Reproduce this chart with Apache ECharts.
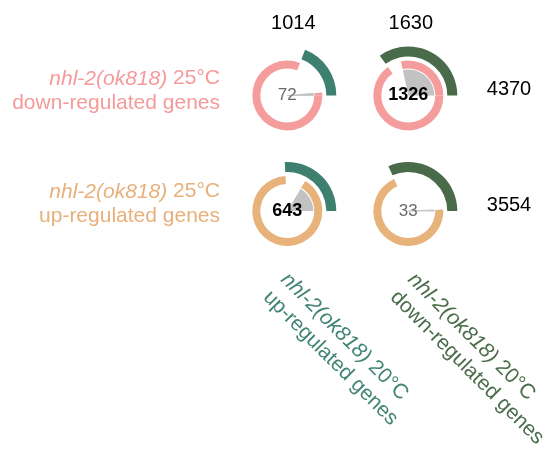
<!DOCTYPE html>
<html><head><meta charset="utf-8">
<script src="https://cdn.jsdelivr.net/npm/echarts@6/dist/echarts.min.js"></script>
<style>html,body{margin:0;padding:0;background:#fff}#c{width:548px;height:449px}</style>
</head><body><div id="c"></div>
<script>
// ---- data ----
const rowLabelsItalic = ['nhl-2(ok818)', 'nhl-2(ok818)'];
const rowLabelsTemp = ['25°C', '25°C'];
const rowLabelsDir = ['down-regulated genes', 'up-regulated genes'];
const colLabelsItalic = ['nhl-2(ok818)', 'nhl-2(ok818)'];
const colLabelsTemp = ['20°C', '20°C'];
const colLabelsDir = ['up-regulated genes', 'down-regulated genes'];
const rowTotals = [4370, 3554];
const colTotals = [1014, 1630];
const overlaps = [[72, 1326], [643, 33]];
const overlapSignificant = [[false, true], [true, false]];

// ---- layout & style ----
const FONT = '"Liberation Sans", Arial, Helvetica, sans-serif';
const rowColors = ['#f59c9c', '#e8b27b'];
const colColors = ['#3e8070', '#4a6b4a'];
const rowTextColors = ['#f59a9a', '#e8b07a'];
const colTextColors = ['#428574', '#4b6d4b'];
const colX = [287.3, 408.3];
const rowY = [95.5, 211];
const topLabelX = [293.3, 410.8];
const topLabelY = 23.8;
const rightLabelX = 509;
const rightLabelY = [89.5, 205.7];
const rowLabelRight = 220;
const rowLabelY = [91.2, 204.2];
const colLabelAnchor = [[293, 267.6], [420, 267.6]];
const T = 'rgba(0,0,0,0)';

const series = [];
const common = {
  type: 'pie', startAngle: 0, clockwise: false, silent: true, animation: false,
  minAngle: 0, padAngle: 0, avoidLabelOverlap: false,
  label: { show: false }, labelLine: { show: false },
  emphasis: { disabled: true, scale: false },
  itemStyle: { borderWidth: 0, borderRadius: 0 }
};
for (let r = 0; r < 2; r++) {
  for (let c = 0; c < 2; c++) {
    const A = rowTotals[r], B = colTotals[c], O = overlaps[r][c];
    const center = [colX[c], rowY[r]];
    series.push(Object.assign({}, common, {
      center, radius: [27, 35],
      data: [
        { value: O, itemStyle: { color: rowColors[r] } },
        { value: B - O, itemStyle: { color: T } },
        { value: A - O, itemStyle: { color: rowColors[r] } }
      ]
    }));
    series.push(Object.assign({}, common, {
      center, radius: [39, 49],
      data: [
        { value: B, itemStyle: { color: colColors[c] } },
        { value: A - O, itemStyle: { color: T } }
      ]
    }));
    const sig = overlapSignificant[r][c];
    series.push(Object.assign({}, common, {
      center, radius: [0, 26], z: 3,
      data: [
        { value: O, itemStyle: { color: '#c2c2c2', borderColor: '#c2c2c2', borderWidth: sig ? 0 : 0.8 },
          label: { show: true, position: 'center', formatter: String(O),
            fontFamily: FONT, fontSize: sig ? 18 : 17, fontWeight: sig ? 'bold' : 'normal',
            color: sig ? '#000' : '#6a6a6a' } },
        { value: (A + B - O) - O, itemStyle: { color: T } }
      ]
    }));
  }
}

const graphic = [];
for (let c = 0; c < 2; c++) {
  graphic.push({ type: 'text', x: topLabelX[c], y: topLabelY, silent: true,
    style: { text: String(colTotals[c]), font: '20px ' + FONT, fill: '#000',
      align: 'center', verticalAlign: 'middle', textAlign: 'center', textVerticalAlign: 'middle' } });
}
for (let r = 0; r < 2; r++) {
  graphic.push({ type: 'text', x: rightLabelX, y: rightLabelY[r], silent: true,
    style: { text: String(rowTotals[r]), font: '20px ' + FONT, fill: '#000',
      align: 'center', verticalAlign: 'middle', textAlign: 'center', textVerticalAlign: 'middle' } });
  graphic.push({ type: 'text', x: rowLabelRight, y: rowLabelY[r], silent: true,
    style: {
      text: '{i|' + rowLabelsItalic[r] + '}{n| ' + rowLabelsTemp[r] + '}\n{n|' + rowLabelsDir[r] + '}',
      align: 'right', verticalAlign: 'middle', textAlign: 'right', textVerticalAlign: 'middle',
      fill: rowTextColors[r], font: '21px ' + FONT, lineHeight: 25,
      rich: {
        i: { fontStyle: 'italic', fontSize: 21, fontFamily: FONT, fill: rowTextColors[r], lineHeight: 25, align: 'right' },
        n: { fontSize: 21, fontFamily: FONT, fill: rowTextColors[r], lineHeight: 25, align: 'right' }
      }
    } });
}
for (let c = 0; c < 2; c++) {
  graphic.push({ type: 'text', x: colLabelAnchor[c][0], y: colLabelAnchor[c][1], rotation: -Math.PI / 4, silent: true,
    style: {
      text: '{i|' + colLabelsItalic[c] + '}{n| ' + colLabelsTemp[c] + '}\n{n|' + colLabelsDir[c] + '}',
      align: 'left', verticalAlign: 'top', textAlign: 'left', textVerticalAlign: 'top',
      fill: colTextColors[c], font: '21px ' + FONT, lineHeight: 25,
      rich: {
        i: { fontStyle: 'italic', fontSize: 21, fontFamily: FONT, fill: colTextColors[c], lineHeight: 25 },
        n: { fontSize: 21, fontFamily: FONT, fill: colTextColors[c], lineHeight: 25 }
      }
    } });
}

const chart = echarts.init(document.getElementById('c'), null, { renderer: 'canvas' });
chart.setOption({ animation: false, backgroundColor: '#fff', series, graphic });
</script></body></html>
